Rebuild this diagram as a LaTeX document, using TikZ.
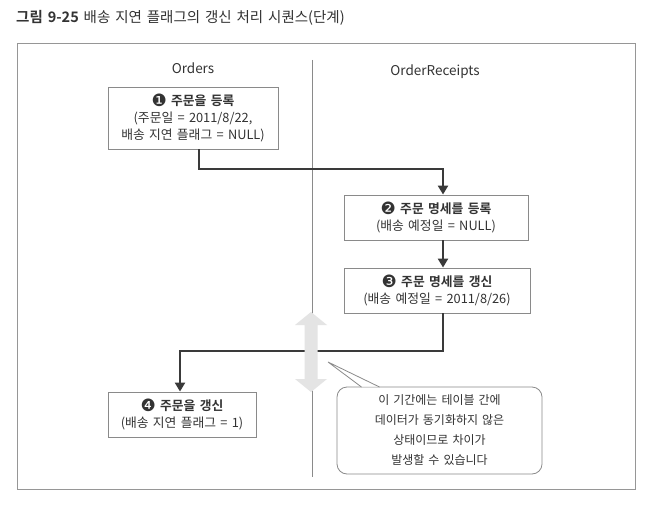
\documentclass[tikz,border=0pt]{standalone}
\usepackage{fontspec}
\setmainfont[WordSpace=1.5]{Noto Sans CJK KR}
\newfontfamily\dejavu{DejaVu Sans}
\newfontfamily\krbold[WordSpace=1.5]{Noto Sans CJK KR Bold}
\usetikzlibrary{arrows.meta,positioning,calc}
\definecolor{ink}{HTML}{333333}
\definecolor{boxline}{HTML}{8A8A8A}
\definecolor{conncol}{HTML}{3A3A3A}
\definecolor{lightarrow}{HTML}{E4E4E4}
\newcommand{\cnum}[1]{{\dejavu\fontsize{17}{14}\selectfont\raisebox{-0.5pt}{#1}}}
\tikzset{
  stepbox/.style={draw=boxline, line width=0.9pt, fill=white, text=ink, align=center,
    font=\fontsize{12.8}{17}\selectfont, inner sep=2pt},
  conn/.style={draw=conncol, line width=2.6pt, -{Triangle[length=9pt,width=10pt]}},
  header/.style={text=ink, font=\fontsize{13.5}{15}\selectfont},
  calloutbox/.style={draw=boxline, line width=0.8pt, fill=white, rounded corners=10pt,
    text=ink, align=center, font=\fontsize{12}{20}\selectfont}
}
\begin{document}
\begin{tikzpicture}[x=1pt,y=-1pt]
\useasboundingbox (0,0) rectangle (668,505);
\fill[white] (0,0) rectangle (668,505);
% title
\node[anchor=west, text=ink, font=\fontsize{14.5}{16}\selectfont, inner sep=0] (title) at (16,18)
  {{\krbold 그림 9-25} 배송 지연 플래그의 갱신 처리 시퀀스(단계)};
% frame
\draw[draw=boxline!90, line width=1pt] (17,44) rectangle (635,489);
% divider
\draw[draw=boxline, line width=0.7pt] (312,60) coordinate (dtop) -- (312,477) coordinate (dbot);
% headers
\node[header] (h1) at (193,68) {Orders};
\node[header] (h2) at (435,72) {OrderReceipts};
% boxes
\node[stepbox, minimum width=170pt, minimum height=62pt] (b1) at (193,118)
  {{\krbold\cnum{❶} 주문을 등록}\\(주문일 = 2011/8/22,\\배송 지연 플래그 = NULL)};
\node[stepbox, minimum width=184pt, minimum height=45pt] (b2) at (436,217.5)
  {{\krbold\cnum{❷} 주문 명세를 등록}\\(배송 예정일 = NULL)};
\node[stepbox, minimum width=186pt, minimum height=45pt] (b3) at (437,290.5)
  {{\krbold\cnum{❸} 주문 명세를 갱신}\\(배송 예정일 = 2011/8/26)};
\node[stepbox, minimum width=148pt, minimum height=45pt] (b4) at (182,414.5)
  {{\krbold\cnum{❹} 주문을 갱신}\\(배송 지연 플래그 = 1)};
% connectors
\coordinate (c1) at (443,169);
\draw[conn] ([xshift=6pt]b1.south) |- (c1) -- ([xshift=7pt]b2.north);
\draw[conn] ([xshift=7pt]b2.south) -- ([xshift=6pt]b3.north);
\coordinate (c2) at (180,351);
\draw[conn] ([xshift=6pt]b3.south) |- (c2) -- ([xshift=-2pt]b4.north);
% light double arrow
\fill[lightarrow] (311,312) -- (327,325) -- (317.5,325) -- (317.5,379) -- (327,379)
  -- (311,392) -- (295,379) -- (304.5,379) -- (304.5,325) -- (295,325) -- cycle;
% callout
\node[calloutbox, minimum width=205pt, minimum height=87pt] (co) at (439.5,430.5)
  {이 기간에는 테이블 간에\\데이터가 동기화하지 않은\\상태이므로 차이가\\발생할 수 있습니다};
\coordinate (tip) at (328,362);
\fill[white] ([xshift=-78pt]co.north) -- (tip) -- ([xshift=-60pt]co.north) -- cycle;
\draw[draw=boxline, line width=0.8pt] ([xshift=-78pt,yshift=-0.4pt]co.north) -- (tip) -- ([xshift=-60pt,yshift=-0.4pt]co.north);
\end{tikzpicture}
\end{document}
